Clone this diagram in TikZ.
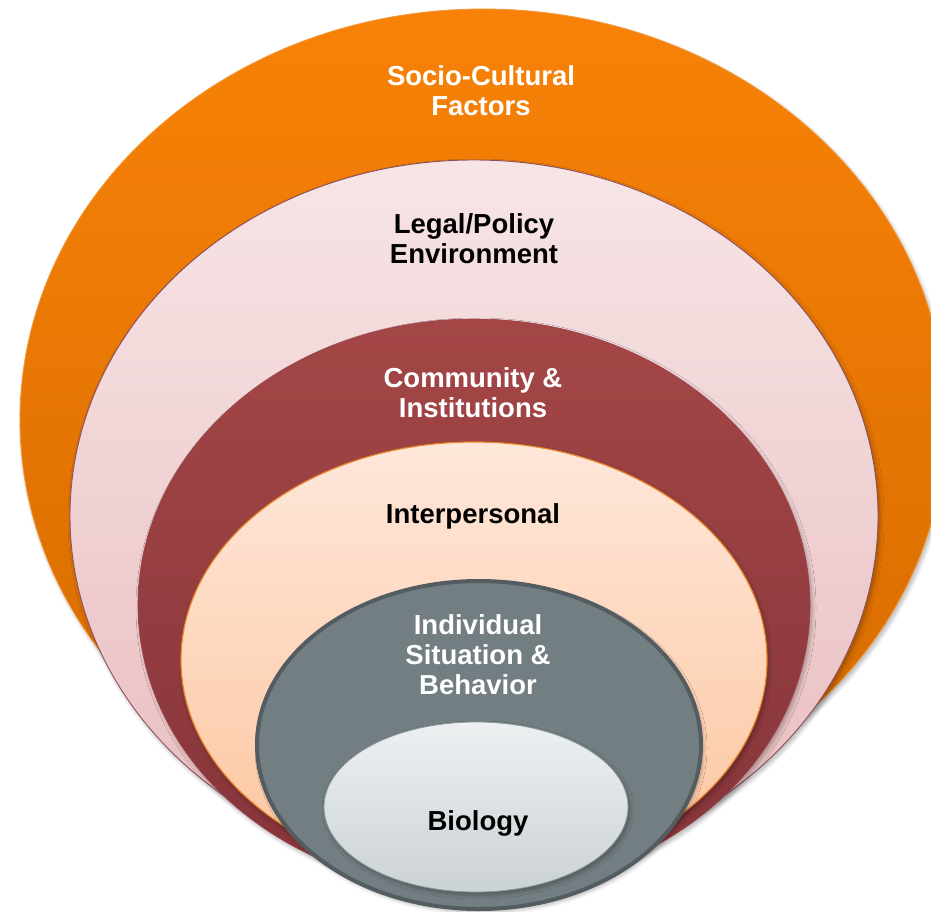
\documentclass[tikz,border=0pt]{standalone}
\usepackage{fontspec}
\setmainfont{Liberation Sans}
\usetikzlibrary{shapes.geometric,shadows.blur}

\definecolor{orTop}{HTML}{F88207}
\definecolor{orBot}{HTML}{D46A00}
\definecolor{orEdge}{HTML}{F29A3C}
\definecolor{pkTop}{HTML}{F7E5E6}
\definecolor{pkBot}{HTML}{E8BCBE}
\definecolor{pkEdge}{HTML}{8E5061}
\definecolor{rdTop}{HTML}{A44646}
\definecolor{rdBot}{HTML}{84343A}
\definecolor{rdEdge}{HTML}{9A4048}
\definecolor{pcTop}{HTML}{FEE7DA}
\definecolor{pcBot}{HTML}{FDC59D}
\definecolor{pcEdge}{HTML}{E8892B}
\definecolor{gyFill}{HTML}{737E82}
\definecolor{gyEdge}{HTML}{535D61}
\definecolor{bgTop}{HTML}{EDF0F1}
\definecolor{bgBot}{HTML}{CBD2D5}
\definecolor{bgEdge}{HTML}{8C979B}

\begin{document}
\begin{tikzpicture}[x=1pt,y=-1pt,
  ring/.style={ellipse, inner sep=0pt, outer sep=0pt},
  soft/.style={blur shadow={shadow xshift=2pt, shadow yshift=-3pt,
      shadow blur steps=6, shadow blur radius=4pt, shadow opacity=30}},
  lbl/.style={align=center, inner sep=0pt,
      font=\fontsize{27.5}{30}\selectfont\bfseries}]
\useasboundingbox (0,0) rectangle (931,912);

% nested levels, outermost first
\node[ring, soft, minimum width=926pt, minimum height=822pt,
      top color=orTop, bottom color=orBot, draw=orEdge, line width=0.8pt]
      (socio) at (483,420) {};
\node[ring, soft, minimum width=808pt, minimum height=712pt,
      top color=pkTop, bottom color=pkBot, draw=pkEdge, line width=0.9pt]
      (legal) at (474,516) {};
\node[ring, soft, minimum width=672pt, minimum height=572pt,
      top color=rdTop, bottom color=rdBot, draw=rdEdge, line width=0.6pt]
      (community) at (474,605) {};
\node[ring, soft, minimum width=586pt, minimum height=436pt,
      top color=pcTop, bottom color=pcBot, draw=pcEdge, line width=1.2pt]
      (inter) at (474,660) {};
\node[ring, soft, minimum width=444pt, minimum height=328pt,
      fill=gyFill, draw=gyEdge, line width=4pt]
      (individual) at (479,745) {};
\node[ring, soft, minimum width=304pt, minimum height=170pt,
      top color=bgTop, bottom color=bgBot, draw=bgEdge, line width=0.8pt]
      (biology) at (476,807) {};

% labels
\node[lbl, text=white] (socioT) at (481,91) {Socio-Cultural\\Factors};
\node[lbl, text=black] (legalT) at (474,239) {Legal/Policy\\Environment};
\node[lbl, text=white] (communityT) at (473,393) {Community \&\\Institutions};
\node[lbl, text=black] (interT) at (473,516) {Interpersonal};
\node[lbl, text=white] (individualT) at (478,655) {Individual\\Situation \&\\Behavior};
\node[lbl, text=black] (biologyT) at (478,823) {Biology};
\end{tikzpicture}
\end{document}
